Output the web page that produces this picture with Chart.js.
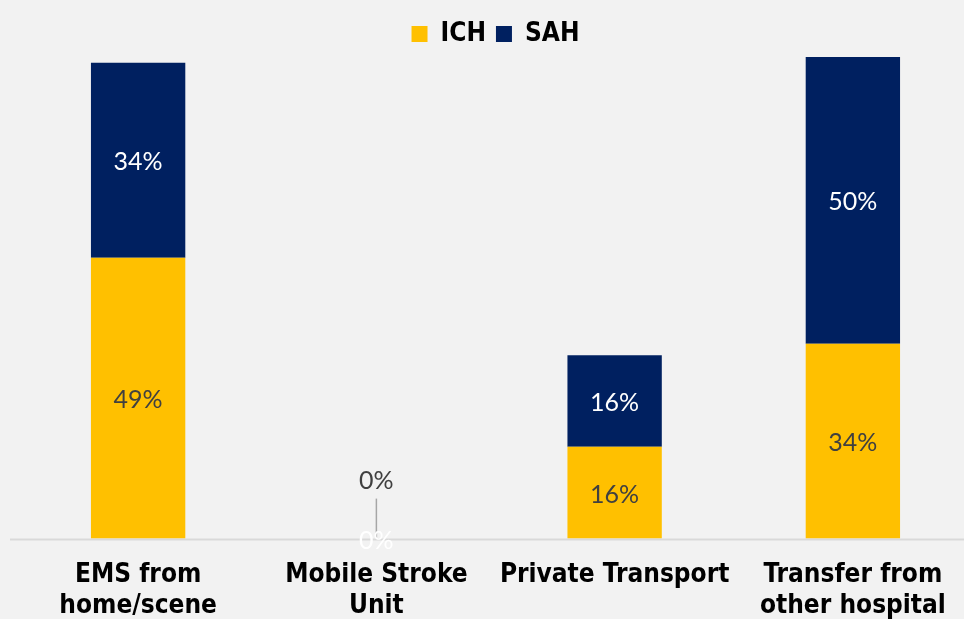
<!DOCTYPE html>
<html lang="en">
<head>
  <meta charset="UTF-8">
  <title>ICH / SAH by arrival mode</title>
  <script src="https://cdn.jsdelivr.net/npm/chart.js"></script>
  <style>
    html, body {
      margin: 0;
      padding: 0;
      background: #F2F2F2;
      overflow: hidden;
    }
    .wrap {
      position: relative;
      width: 975px;
      height: 643px;
    }
  </style>
</head>
<body>
  <div class="wrap">
    <canvas id="chart"></canvas>
  </div>

  <script>
    // data
    const categories = [
      ["EMS from", "home/scene"],
      ["Mobile Stroke", "Unit"],
      ["Private Transport"],
      ["Transfer from", "other hospital"]
    ];
    const ich = [49, 0, 16, 34];
    const sah = [34, 0, 16, 50];

    const yellow = "#FFC000";
    const navy = "#002060";

    // value labels drawn inside the bars
    const barLabels = {
      id: "barLabels",
      beforeDatasetsDraw(chart) {
        const { ctx, chartArea } = chart;
        const y = chart.scales.y.getPixelForValue(0);
        ctx.save();
        ctx.strokeStyle = "#D9D9D9";
        ctx.lineWidth = 2;
        ctx.beginPath();
        ctx.moveTo(10, y + 1);
        ctx.lineTo(chartArea.right + 10, y + 1);
        ctx.stroke();
        ctx.restore();
      },
      afterDatasetsDraw(chart) {
        const { ctx } = chart;
        ctx.save();
        ctx.font = "25px Lato";
        ctx.textAlign = "center";
        ctx.textBaseline = "middle";
        chart.data.datasets.forEach((ds, di) => {
          const meta = chart.getDatasetMeta(di);
          meta.data.forEach((bar, i) => {
            const v = ds.data[i];
            const txt = v + "%";
            if (v === 0 && di === 0) {
              // moved label with a leader line
              ctx.fillStyle = "#404040";
              ctx.fillText(txt, bar.x, bar.base - 58);
              ctx.strokeStyle = "#A6A6A6";
              ctx.lineWidth = 1.5;
              ctx.beginPath();
              ctx.moveTo(bar.x, bar.base - 40);
              ctx.lineTo(bar.x, bar.base - 1);
              ctx.stroke();
              return;
            }
            ctx.fillStyle = di === 0 ? "#404040" : "#FFFFFF";
            ctx.fillText(txt, bar.x, (bar.y + bar.base) / 2 + 2);
          });
        });
        ctx.restore();
      }
    };

    new Chart(document.getElementById("chart"), {
      type: "bar",
      data: {
        labels: categories,
        datasets: [
          { label: "ICH", data: ich, backgroundColor: yellow },
          { label: "SAH", data: sah, backgroundColor: navy }
        ]
      },
      options: {
        responsive: true,
        maintainAspectRatio: false,
        animation: false,
        categoryPercentage: 0.4,
        barPercentage: 0.99,
        layout: { padding: { top: 11, left: 19, right: 3, bottom: 0 } },
        plugins: {
          tooltip: { enabled: false },
          legend: {
            position: "top",
            labels: {
              boxWidth: 16,
              boxHeight: 16,
              padding: 10,
              color: "#000",
              font: { family: "'DejaVu Sans Condensed', 'DejaVu Sans'", weight: "bold", size: 26 }
            }
          }
        },
        scales: {
          x: {
            stacked: true,
            grid: { display: false, drawTicks: false },
            border: { display: false },
            ticks: {
              padding: 21,
              maxRotation: 0,
              autoSkip: false,
              color: "#000",
              font: { family: "'DejaVu Sans Condensed', 'DejaVu Sans'", weight: "bold", size: 26, lineHeight: 1.2 }
            }
          },
          y: {
            stacked: true,
            display: false,
            min: 0,
            max: 84
          }
        }
      },
      plugins: [barLabels]
    });
  </script>
</body>
</html>
